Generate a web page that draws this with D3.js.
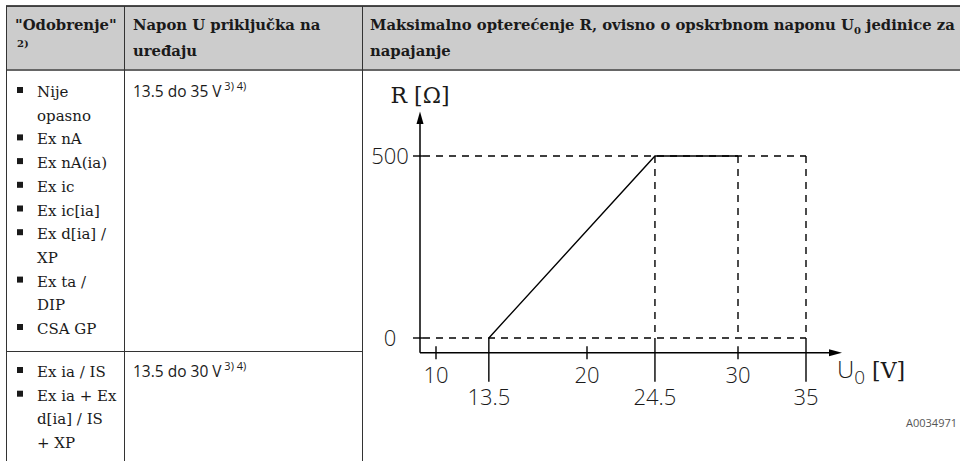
<!DOCTYPE html>
<html lang="hr">
<head>
<meta charset="utf-8">
<title>Maksimalno opterećenje R</title>
<script src="https://cdn.jsdelivr.net/npm/d3@7"></script>
<style>
  html, body { margin: 0; padding: 0; background: #fff; }
  svg { display: block; }
  .serif { font-family: "DejaVu Serif", serif; }
  .sans { font-family: "Open Sans", "DejaVu Sans", sans-serif; }
</style>
</head>
<body>
<svg id="chart" width="960" height="461"></svg>
<script>
// table content
var headers = ['"Odobrenje"', 'Napon U priključka na', 'uređaju'];
var approvalsRow1 = [['Nije', 'opasno'], ['Ex nA'], ['Ex nA(ia)'], ['Ex ic'], ['Ex ic[ia]'],
                     ['Ex d[ia] /', 'XP'], ['Ex ta /', 'DIP'], ['CSA GP']];
var approvalsRow2 = [['Ex ia / IS'], ['Ex ia + Ex', 'd[ia] / IS', '+ XP']];
var voltageRanges = ['13.5 do 35 V', '13.5 do 30 V'];

// chart content
var yTicks = [0, 500];
var xTicksUpper = [10, 20, 30];
var xTicksLower = [13.5, 24.5, 35];
var loadCurve = [[13.5, 0], [24.5, 500], [30, 500]];
var guideVoltages = [24.5, 30, 35];

var svg = d3.select('#chart');
var ink = '#1a1a1a';

// ---------- table ----------
var tLeft = 6, tTop = 6, tHead = 70, col1 = 124, col2 = 362, rowDiv = 351;

svg.append('rect').attr('x', tLeft).attr('y', tTop).attr('width', 960 - tLeft).attr('height', tHead - tTop)
    .attr('fill', '#cccccc');
svg.append('line').attr('x1', tLeft).attr('x2', 960).attr('y1', tTop).attr('y2', tTop)
    .attr('stroke', '#111').attr('stroke-width', 1.5);
svg.append('line').attr('x1', tLeft).attr('x2', 960).attr('y1', tHead).attr('y2', tHead)
    .attr('stroke', '#666').attr('stroke-width', 2);
[tLeft, col1, col2].forEach(function (x) {
    svg.append('line').attr('x1', x + 0.5).attr('x2', x + 0.5).attr('y1', tTop).attr('y2', 461)
        .attr('stroke', '#333').attr('stroke-width', 1);
});
svg.append('line').attr('x1', tLeft).attr('x2', col2).attr('y1', rowDiv + 0.5).attr('y2', rowDiv + 0.5)
    .attr('stroke', '#333').attr('stroke-width', 1);

// header texts
var head = svg.append('g').attr('class', 'serif').attr('font-weight', 'bold')
    .attr('font-size', '14.8px').attr('fill', ink);
head.append('text').attr('x', 15).attr('y', 30).text(headers[0]);
head.append('text').attr('x', 17).attr('y', 47).attr('font-size', '10px').text('2)');
head.append('text').attr('x', 133).attr('y', 30).text(headers[1]);
head.append('text').attr('x', 133).attr('y', 56).text(headers[2]);
var h3 = head.append('text').attr('x', 370).attr('y', 30);
h3.append('tspan').text('Maksimalno opterećenje R, ovisno o opskrbnom naponu U');
h3.append('tspan').attr('font-size', '10px').attr('dy', 4).text('0');
h3.append('tspan').attr('dy', -4).text(' jedinice za');
head.append('text').attr('x', 370).attr('y', 56).text('napajanje');

// bullet lists
var lineStep = 23.7;
function drawList(items, firstBaseline) {
    var g = svg.append('g').attr('class', 'serif').attr('font-size', '15px').attr('fill', ink);
    var line = 0;
    items.forEach(function (item) {
        var base = firstBaseline + line * lineStep;
        g.append('rect').attr('x', 17).attr('y', base - 10).attr('width', 6).attr('height', 6)
            .attr('fill', ink);
        item.forEach(function (txt, i) {
            g.append('text').attr('x', 37).attr('y', base + i * lineStep).text(txt);
        });
        line += item.length;
    });
}
drawList(approvalsRow1, 97);
drawList(approvalsRow2, 377);

[97, 377].forEach(function (base, i) {
    var t = svg.append('text').attr('class', 'sans').attr('x', 133).attr('y', base)
        .attr('font-size', '15.5px').attr('fill', ink);
    t.append('tspan').text(voltageRanges[i]);
    t.append('tspan').attr('font-size', '11px').attr('dy', -7).text(' 3) 4)');
});

// ---------- chart ----------
var x = d3.scaleLinear().domain([10, 30, 35]).range([436, 738, 806]);
var y = d3.scaleLinear().domain([0, 500]).range([338, 156]);
var axisX = 420, axisY = 352.7, arrowEndX = 842, arrowTopY = 111.5;
var chart = svg.append('g').attr('stroke', '#000').attr('fill', 'none');
var dash = '7,6';

// dashed guides
yTicks.forEach(function (v) {
    chart.append('line').attr('x1', axisX + 3).attr('x2', x(35)).attr('y1', y(v)).attr('y2', y(v))
        .attr('stroke-width', 1.4).attr('stroke-dasharray', dash);
    chart.append('line').attr('x1', axisX - 7).attr('x2', axisX + 3).attr('y1', y(v)).attr('y2', y(v))
        .attr('stroke-width', 1.4);
});
guideVoltages.forEach(function (v) {
    chart.append('line').attr('x1', x(v)).attr('x2', x(v)).attr('y1', y(500)).attr('y2', y(0))
        .attr('stroke-width', 1.4).attr('stroke-dasharray', dash);
});

// axes
chart.append('line').attr('x1', axisX).attr('x2', axisX).attr('y1', arrowTopY + 6).attr('y2', axisY)
    .attr('stroke-width', 1.5);
chart.append('line').attr('x1', axisX).attr('x2', arrowEndX - 6).attr('y1', axisY).attr('y2', axisY)
    .attr('stroke-width', 1.5);
svg.append('path').attr('fill', '#000')
    .attr('d', 'M' + axisX + ',' + arrowTopY + 'l-3.5,12.5h7z');
svg.append('path').attr('fill', '#000')
    .attr('d', 'M' + arrowEndX + ',' + axisY + 'l-13,-3.5v7z');

// ticks
xTicksUpper.forEach(function (v) {
    chart.append('line').attr('x1', x(v)).attr('x2', x(v)).attr('y1', axisY - 6.5).attr('y2', axisY + 6.5)
        .attr('stroke-width', 1.4);
});
xTicksLower.forEach(function (v) {
    chart.append('line').attr('x1', x(v)).attr('x2', x(v)).attr('y1', y(0)).attr('y2', axisY + 29)
        .attr('stroke-width', 1.4);
});

// load curve
chart.append('path').datum(loadCurve)
    .attr('d', d3.line().x(function (d) { return x(d[0]); }).y(function (d) { return y(d[1]); }))
    .attr('stroke-width', 1.4);

// labels
var lab = svg.append('g').attr('class', 'sans').attr('font-size', '22px').attr('font-weight', 300)
    .attr('fill', ink).attr('text-anchor', 'middle');
lab.selectAll('.yl').data(yTicks).enter().append('text')
    .attr('x', 390).attr('y', function (d) { return y(d) + 8; }).text(function (d) { return d; });
lab.selectAll('.xu').data(xTicksUpper).enter().append('text')
    .attr('x', function (d) { return x(d); }).attr('y', 383).text(function (d) { return d; });
lab.selectAll('.xl').data(xTicksLower).enter().append('text')
    .attr('x', function (d) { return x(d); }).attr('y', 405).text(function (d) { return d; });

svg.append('text').attr('class', 'serif').attr('x', 420).attr('y', 102.5).attr('text-anchor', 'middle')
    .attr('font-size', '22px').attr('fill', ink).text('R [Ω]');

var ul = svg.append('text').attr('class', 'sans').attr('x', 837).attr('y', 378)
    .attr('font-size', '24px').attr('font-weight', 300).attr('fill', ink);
ul.append('tspan').text('U');
ul.append('tspan').attr('font-size', '19px').attr('dy', 6).text('0');
ul.append('tspan').attr('class', 'serif').attr('font-size', '22px').attr('dy', -6).text(' [V]');

svg.append('text').attr('class', 'sans').attr('x', 957).attr('y', 427).attr('text-anchor', 'end')
    .attr('font-size', '11px').attr('fill', '#555').text('A0034971');
</script>
</body>
</html>
